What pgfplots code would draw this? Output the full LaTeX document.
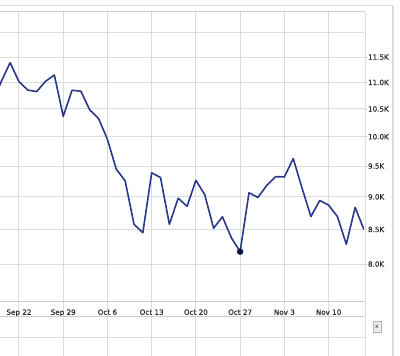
\documentclass[border=0pt]{standalone}
\usepackage{pgfplots}
\pgfplotsset{compat=1.18}
\usepackage{fontspec}
\setmainfont{DejaVu Sans}
\newfontfamily\labfont[FakeBold=0.6]{DejaVu Sans}
\definecolor{linecol}{RGB}{42,56,138}
\definecolor{dotcol}{RGB}{10,20,70}
\definecolor{gridc}{RGB}{220,220,220}
\definecolor{framec}{RGB}{205,205,205}
\definecolor{labc}{RGB}{45,45,45}
\begin{document}
\begin{tikzpicture}[x=1pt,y=1pt]
\path[use as bounding box] (0,0) rectangle (400,356);
% lower panel with vertical grid
\begin{axis}[
  at={(0pt,0pt)}, anchor=south west,
  width=364pt, height=54pt, scale only axis,
  xmin=2.855, xmax=44, ymin=0, ymax=1,
  axis line style={draw=none},
  xtick={5,10,...,40}, xticklabels={}, ytick=\empty,
  xtick style={draw=none},
  xmajorgrids, grid style={gridc, line width=1pt},
]
\addplot[draw=none] coordinates {(5,0.5)};
\end{axis}
% main panel
\begin{axis}[
  at={(0pt,55pt)}, anchor=south west,
  width=364pt, height=289pt, scale only axis,
  xmin=2.855, xmax=44, ymode=log, ymin=7500, ymax=12448,
  axis line style={draw=none},
  xtick={5,10,...,40},
  xticklabels={Sep 22,Sep 29,Oct 6,Oct 13,Oct 20,Oct 27,Nov 3,Nov 10},
  ytick={8000,8500,9000,9500,10000,10500,11000,11500},
  yticklabels={8.0K,8.5K,9.0K,9.5K,10.0K,10.5K,11.0K,11.5K},
  extra y ticks={12000}, extra y tick labels={},
  extra y tick style={major tick length=0pt},
  yticklabel pos=right,
  tick align=outside, major tick length=3pt,
  ytick style={framec, line width=0.8pt},
  xtick style={draw=none},
  grid=major, grid style={gridc, line width=1pt},
  ticklabel style={font=\labfont\fontsize{7.2}{8}\selectfont, text=labc},
  yticklabel style={xshift=-2.5pt},
  xticklabel style={yshift=-2pt},
  clip=true,
]
\addplot[linecol, line width=1.6pt, line join=round] coordinates {
(2,10609.66) (3,11019.69) (4,11388.44)
(5,11015.69) (6,10854.17) (7,10825.17) (8,11022.06) (9,11143.13)
(10,10365.45) (11,10850.66) (12,10831.07) (13,10482.85) (14,10325.38)
(15,9955.50) (16,9447.11) (17,9258.10) (18,8579.19) (19,8451.19)
(20,9387.61) (21,9310.99) (22,8577.91) (23,8979.26) (24,8852.22)
(25,9265.43) (26,9033.66) (27,8519.21) (28,8691.25) (29,8378.95)
(30,8175.77) (31,9065.12) (32,8990.96) (33,9180.69) (34,9325.01)
(35,9319.83) (36,9625.28) (37,9139.27) (38,8695.79) (39,8943.81)
(40,8870.54) (41,8693.96) (42,8282.66) (43,8835.25) (44,8497.31)
};
\addplot[only marks, mark=*, mark size=3pt, color=dotcol] coordinates {(30,8175.77)};
\end{axis}
% frame lines
\draw[gridc, line width=1pt] (0,350) -- (393,350);
\draw[framec, line width=1.8pt] (0,344.5) -- (365,344.5);
\draw[gridc, line width=1pt] (365,344.5) -- (365,0);
\draw[gridc, line width=1.5pt] (393,350) -- (393,0);
\draw[framec, line width=1pt] (0,54) -- (365,54);
\draw[framec, line width=1pt] (0,39) -- (365,39);
\draw[gridc, line width=1pt] (0,18) -- (365,18);
\node[draw=gray!60, fill=gray!15, inner sep=0pt, minimum width=8pt, minimum height=11pt,
      font=\fontsize{6}{6}\selectfont, text=labc] at (377,29) {x};
\end{tikzpicture}
\end{document}
